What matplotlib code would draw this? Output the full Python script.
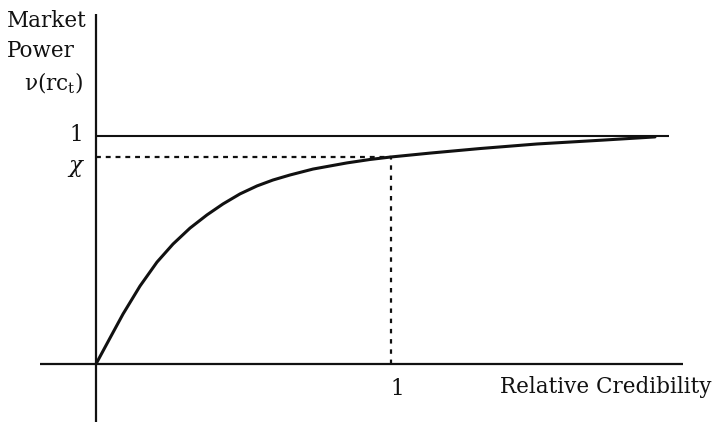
import matplotlib
matplotlib.use("Agg")
import matplotlib.pyplot as plt

# Curve: relative credibility vs market power
credibility = [0.0, 0.0475, 0.0915, 0.1492, 0.2068, 0.2610, 0.3186, 0.3763, 0.4305,
               0.4881, 0.5458, 0.6000, 0.6576, 0.7356, 0.8508, 0.9288, 1.0, 1.1322,
               1.3017, 1.4949, 1.7186, 1.8949]
market_power = [0.0, 0.114, 0.219, 0.342, 0.447, 0.526, 0.596, 0.654, 0.702,
                0.746, 0.781, 0.807, 0.829, 0.855, 0.882, 0.897, 0.908, 0.925,
                0.945, 0.965, 0.982, 0.996]
chi_level = 0.908
one_x = 1.0
upper_bound = 1.0

plt.rcParams['mathtext.fontset'] = 'dejavuserif'

W, H = 714, 422
fig = plt.figure(figsize=(W / 100, H / 100), dpi=100)
ax = fig.add_axes([0, 0, 1, 1])
ax.set_axis_off()

# pixel mapping: x origin 96 px, 295 px per unit; y origin 364 px, 228 px per unit
x0, sx = 96, 295
y0, sy = 364, 228
ax.set_xlim((0 - x0) / sx, (W - x0) / sx)
ax.set_ylim((y0 - H) / sy, y0 / sy)

ink = '#111111'
# axes
ax.plot([0, 0], [(y0 - H) / sy, (y0 - 14) / sy], color=ink, lw=1.6, solid_capstyle='butt')
ax.plot([(40 - x0) / sx, (683 - x0) / sx], [0, 0], color=ink, lw=1.6, solid_capstyle='butt')
# upper bound line
ax.plot([0, (669 - x0) / sx], [upper_bound, upper_bound], color=ink, lw=1.5, solid_capstyle='butt')
# dashed guides
ax.plot([0, one_x], [chi_level, chi_level], color=ink, lw=1.6, linestyle=(0, (2.2, 2.2)))
ax.plot([one_x, one_x], [0, chi_level], color=ink, lw=1.6, linestyle=(0, (2.0, 2.6)))
# curve
ax.plot(credibility, market_power, color=ink, lw=2.2, solid_capstyle='round',
        solid_joinstyle='round')

tr = ax.transAxes
def T(px, py, s, **kw):
    ax.text(px / W, 1 - py / H, s, transform=tr, family='DejaVu Serif', color=ink, **kw)

fs = 15.5
T(7, 27, "Market", fontsize=fs, ha='left', va='baseline')
T(7, 57, "Power", fontsize=fs, ha='left', va='baseline')
T(83, 90, "ν(rc$_{\\mathrm{t}}$)", fontsize=fs, ha='right', va='baseline')
T(83, 141, "1", fontsize=fs, ha='right', va='baseline')
T(85, 172, "$\\chi$", fontsize=fs + 1, ha='right', va='baseline')
T(397, 395, "1", fontsize=fs, ha='center', va='baseline')
T(711, 393, "Relative Credibility", fontsize=fs, ha='right', va='baseline')

fig.savefig("out.png", dpi=100)
